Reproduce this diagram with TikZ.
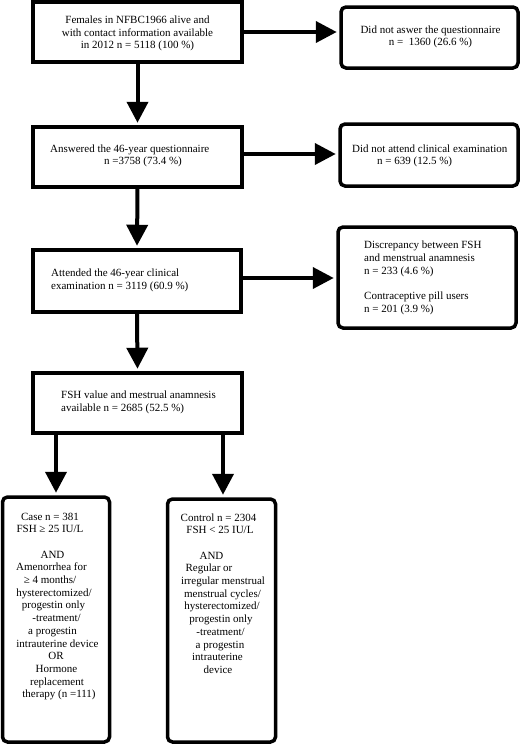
\documentclass[tikz,border=0pt]{standalone}
\usepackage{fontspec}
\setmainfont{Liberation Serif}
\usetikzlibrary{arrows.meta}
\begin{document}
\begin{tikzpicture}[x=1pt,y=-1pt,
  box/.style={draw, line width=3.5pt, inner sep=0pt},
  rbox/.style={box, rounded corners=5pt},
  txt/.style={inner sep=0pt, font=\fontsize{11}{12.7}\selectfont},
  arr/.style={line width=4pt, -{Triangle[length=21pt,width=21pt]}, shorten >=2.5pt}]
\useasboundingbox (0,0) rectangle (520,745);
% boxes
\node[box, minimum width=209pt, minimum height=60pt] (b1) at (137.5,32) {};
\node[rbox, minimum width=177pt, minimum height=61pt] (r1) at (429.5,37.5) {};
\node[box, minimum width=209pt, minimum height=60pt] (b2) at (137.5,157) {};
\node[rbox, minimum width=178pt, minimum height=62pt] (r2) at (429,155) {};
\node[box, minimum width=208pt, minimum height=62pt] (b3) at (137,281) {};
\node[rbox, minimum width=178pt, minimum height=101pt] (r3) at (427,277.5) {};
\node[box, minimum width=209pt, minimum height=60pt] (b4) at (137.5,403) {};
\node[rbox, minimum width=107pt, minimum height=245pt] (c1) at (56,619.5) {};
\node[rbox, minimum width=108pt, minimum height=243pt] (c2) at (221.5,620.5) {};
% texts
\node[txt, align=center] (t1) at (137.5,33.5) {Females in NFBC1966 alive and\\with contact information available\\in 2012 n = 5118 (100 \%)};
\node[txt, align=center] (tr1) at (430.5,37) {Did not aswer the questionnaire\\n =\ \ 1360 (26.6 \%)};
\node[txt, align=left, anchor=west] (t2) at (50,156) {Answered the 46-year questionnaire\\\hspace*{54pt}n =3758 (73.4 \%)};
\node[txt, align=left, anchor=west] (tr2) at (352,156) {Did not attend clinical examination\\\hspace*{25pt}n = 639 (12.5 \%)};
\node[txt, align=left, anchor=west] (t3) at (51,280.5) {Attended the 46-year clinical\\examination n = 3119 (60.9 \%)};
\node[txt, align=left, anchor=west] (tr3) at (364,278) {Discrepancy between FSH\\and menstrual anamnesis\\n = 233 (4.6 \%)\\[12.7pt]Contraceptive pill users\\n = 201 (3.9 \%)};
\node[txt, align=left, anchor=west] (t4) at (61,402.5) {FSH value and mestrual anamnesis\\available n = 2685 (52.5 \%)};
\node[txt, align=center] (tc1) at (54,606.5) {\hspace*{-8pt}Case n = 381\\\hspace*{-8pt}FSH ≥ 25 IU/L\\[12.7pt]\hspace*{-3pt}AND\\\hspace*{-5pt}Amenorrhea for\\\hspace*{-8pt}≥ 4 months/\\hysterectomized/\\\hspace*{-1pt}progestin only\\\hspace*{5pt}-treatment/\\\hspace*{-3pt}a progestin\\\hspace*{7pt}intrauterine device\\\hspace*{4pt}OR\\\hspace*{5pt}Hormone\\\hspace*{6pt}replacement\\\hspace*{10pt}therapy (n =111)};
\node[txt, align=center] (tc2) at (220,593.5) {\hspace*{-3pt}Control n = 2304\\FSH < 25 IU/L\\[12.7pt]\hspace*{-17pt}AND\\\hspace*{-22pt}Regular or\\\hspace*{6pt}irregular menstrual\\\hspace*{5pt}menstrual cycles/\\\hspace*{4pt}hysterectomized/\\\hspace*{2pt}progestin only\\\hspace*{1pt}-treatment/\\a progestin\\\hspace*{-5pt}intrauterine\\\hspace*{-4pt}device};
% connectors
\draw[arr] (b1.east |- 0,32) -- (r1.west |- 0,32);
\draw[arr] (b1.south) -- (b2.north);
\draw[arr] (b2.east |- 0,154) -- (r2.west |- 0,154);
\draw[arr] (b2.south) -- (b3.north);
\draw[arr] (b3.east |- 0,278) -- (r3.west |- 0,278);
\draw[arr] (b3.south) -- (b4.north);
\draw[arr] (b4.south -| c1.north) -- (c1.north);
\draw[arr] (b4.south -| 223,0) -- (c2.north -| 223,0);
\end{tikzpicture}
\end{document}
